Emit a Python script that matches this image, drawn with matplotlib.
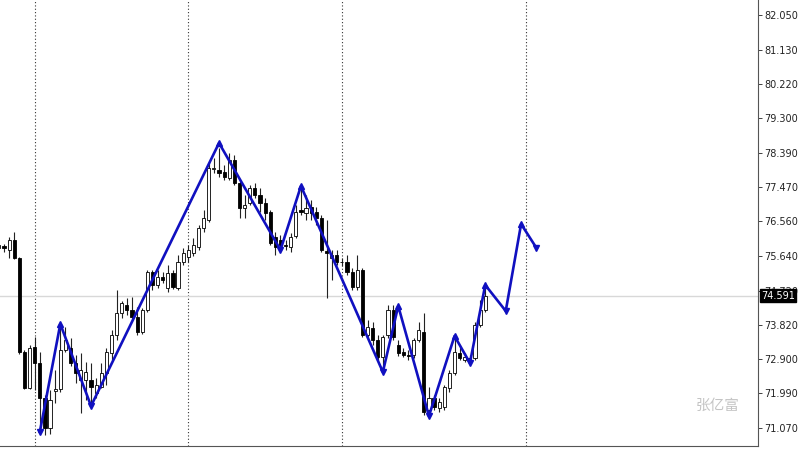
import matplotlib
matplotlib.use("Agg")
import matplotlib.pyplot as plt
import numpy as np
from matplotlib.transforms import blended_transform_factory

# H4 bars, index -1 is the partly visible one at the left edge
bar_idx = np.arange(-1, 95)
opens = [75.855, 75.908, 75.802, 76.068, 75.589, 73.089, 72.132, 73.222, 72.797, 71.866,
         71.069, 72.053, 72.106, 73.143, 73.196, 72.797, 72.345, 72.345, 72.345, 71.999,
         72.158, 72.531, 73.063, 73.542, 74.126, 74.338, 74.206, 74.020, 73.621, 74.206,
         75.216, 74.871, 75.084, 74.791, 75.190, 74.791, 75.483, 75.615, 75.722, 75.882,
         76.387, 76.599, 77.960, 77.929, 77.876, 77.716, 78.195, 77.583, 76.918, 77.051,
         77.450, 77.264, 77.051, 76.812, 76.147, 76.068, 75.935, 75.882, 76.174, 76.865,
         76.785, 76.945, 76.812, 76.653, 75.775, 75.589, 75.669, 75.483, 75.483, 75.216,
         74.818, 75.269, 73.542, 73.728, 73.409, 72.956, 73.542, 74.206, 73.276, 73.089,
         73.010, 73.010, 73.409, 73.621, 71.548, 71.866, 71.601, 71.627, 72.132, 72.531,
         73.063, 72.877, 72.824, 72.930, 73.807, 74.206]
highs = [76.068, 75.961, 76.147, 76.280, 75.615, 73.143, 73.276, 73.488, 73.089, 71.946,
         72.079, 72.610, 73.781, 73.754, 73.462, 73.010, 73.063, 72.824, 72.797, 72.398,
         72.797, 73.196, 73.675, 74.738, 74.445, 74.525, 74.552, 74.286, 74.259, 75.269,
         75.269, 75.269, 75.216, 75.403, 75.269, 75.669, 75.855, 75.935, 76.121, 76.466,
         76.865, 78.115, 78.248, 78.520, 78.062, 78.381, 78.328, 77.663, 77.264, 77.530,
         77.583, 77.450, 77.184, 76.865, 76.280, 76.201, 76.068, 76.254, 76.998, 77.450,
         77.264, 77.131, 76.945, 76.732, 76.599, 75.802, 75.802, 75.589, 75.669, 75.323,
         75.669, 75.323, 73.940, 73.887, 73.542, 73.542, 74.338, 74.338, 73.409, 73.196,
         73.143, 73.462, 73.887, 74.126, 72.158, 71.946, 71.866, 72.212, 72.610, 73.488,
         73.276, 73.063, 73.010, 73.887, 74.472, 74.791]
lows = [75.589, 75.749, 75.589, 75.562, 73.036, 72.106, 72.106, 72.079, 70.963, 70.883,
        70.909, 71.734, 72.026, 73.089, 72.717, 72.265, 71.468, 71.813, 71.654, 71.866,
        72.132, 72.212, 72.877, 73.409, 73.993, 74.073, 73.940, 73.542, 73.568, 74.153,
        74.738, 74.791, 74.924, 74.685, 74.765, 74.738, 75.403, 75.483, 75.642, 75.802,
        76.280, 76.546, 77.849, 77.743, 77.663, 77.663, 77.530, 76.653, 76.653, 76.998,
        77.184, 76.812, 76.599, 75.935, 75.669, 75.802, 75.802, 75.749, 76.121, 76.732,
        76.599, 76.599, 76.466, 75.749, 74.525, 75.004, 75.403, 75.376, 75.137, 74.738,
        74.738, 73.488, 73.462, 73.276, 72.877, 72.610, 73.462, 73.409, 72.983, 72.956,
        72.877, 72.930, 73.355, 71.414, 71.388, 71.548, 71.494, 71.548, 72.026, 72.478,
        72.877, 72.824, 72.771, 72.877, 73.754, 74.153]
closes = [75.935, 75.855, 76.068, 75.589, 73.089, 72.132, 73.196, 72.797, 71.866, 71.069,
          71.813, 72.106, 73.143, 73.409, 72.797, 72.531, 72.610, 72.558, 72.158, 72.212,
          72.531, 73.089, 73.542, 74.126, 74.392, 74.206, 74.020, 73.621, 74.206, 75.216,
          74.871, 75.084, 75.004, 75.190, 74.818, 75.483, 75.722, 75.802, 75.935, 76.387,
          76.653, 77.982, 77.982, 77.849, 77.743, 78.195, 77.583, 76.918, 76.998, 77.450,
          77.264, 77.051, 76.785, 75.988, 75.882, 75.935, 75.921, 76.147, 76.812, 76.812,
          76.918, 76.785, 76.653, 75.802, 75.722, 75.669, 75.483, 75.470, 75.216, 74.818,
          75.269, 73.542, 73.754, 73.409, 72.956, 73.488, 74.206, 73.488, 73.063, 73.010,
          72.983, 73.409, 73.675, 71.494, 71.866, 71.627, 71.760, 72.158, 72.531, 73.089,
          72.930, 72.956, 72.930, 73.807, 74.206, 74.591]

# zigzag swing points (bar index, price)
zz_idx = [7, 11, 17, 42, 54, 58, 74, 77, 83, 88, 91, 94, 98, 101, 104]
zz_price = [70.963, 73.834, 71.654, 78.647, 75.802, 77.503, 72.558, 74.313,
            71.388, 73.515, 72.797, 74.871, 74.180, 76.493, 75.855]

separators = [6, 36, 66, 102]
price_ticks = [82.050, 81.130, 80.220, 79.300, 78.390, 77.470, 76.560,
               75.640, 74.720, 73.820, 72.900, 71.990, 71.070]
last_price = 74.591
watermark = "张亿富"

fig = plt.figure(figsize=(8, 4.5), dpi=100)
ax = fig.add_axes([0.0, 0.0089, 0.9475, 0.9911])
ax.set_xlim(-0.78, 147.27)
ax.set_ylim(70.590, 82.449)

o = np.array(opens)
h = np.array(highs)
l = np.array(lows)
c = np.array(closes)
up = c >= o

ax.vlines(bar_idx, l, h, color="#222222", linewidth=0.8, zorder=2)
body_h = np.abs(c - o)
body_h = np.where(body_h < 0.02, 0.02, body_h)
ax.bar(bar_idx, body_h, bottom=np.minimum(o, c), width=0.62,
       color=np.where(up, "white", "black"), edgecolor="black",
       linewidth=0.6, zorder=3)

for s in separators:
    ax.axvline(s, color="#333333", linestyle=(0, (1, 2)), linewidth=0.8, zorder=1)
ax.axhline(last_price, color="#d8d8d8", linewidth=1.0, zorder=1)

zz_col = "#1010c0"
ax.plot(zz_idx, zz_price, color=zz_col, linewidth=1.9, zorder=4)
for k, (xi, yi) in enumerate(zip(zz_idx, zz_price)):
    prev_p = zz_price[k - 1] if k > 0 else zz_price[k + 1]
    mk = "^" if yi > prev_p else "v"
    ax.plot(xi, yi, marker=mk, markersize=5, color=zz_col, zorder=5)

ax.yaxis.tick_right()
ax.set_yticks(price_ticks)
ax.set_yticklabels([f"{t:.3f}" for t in price_ticks])
ax.tick_params(axis="y", labelsize=7, length=3, width=0.6, pad=1.5, colors="#222222")
ax.set_xticks([])
for side in ("top", "left"):
    ax.spines[side].set_visible(False)
for side in ("right", "bottom"):
    ax.spines[side].set_color("#555555")
    ax.spines[side].set_linewidth(0.8)

tr = blended_transform_factory(ax.transAxes, ax.transData)
ax.text(1.004, last_price, f"{last_price:.3f}", transform=tr, fontsize=7,
        color="white", va="center", ha="left", clip_on=False, zorder=10,
        bbox=dict(boxstyle="square,pad=0.15", facecolor="black", edgecolor="black"))

ax.text(0.976, 0.09, watermark, transform=ax.transAxes, fontsize=10.5,
        color="#c4c4c4", ha="right", va="center",
        family=["Noto Sans CJK SC", "DejaVu Sans"])

fig.savefig("out.png", dpi=100)
